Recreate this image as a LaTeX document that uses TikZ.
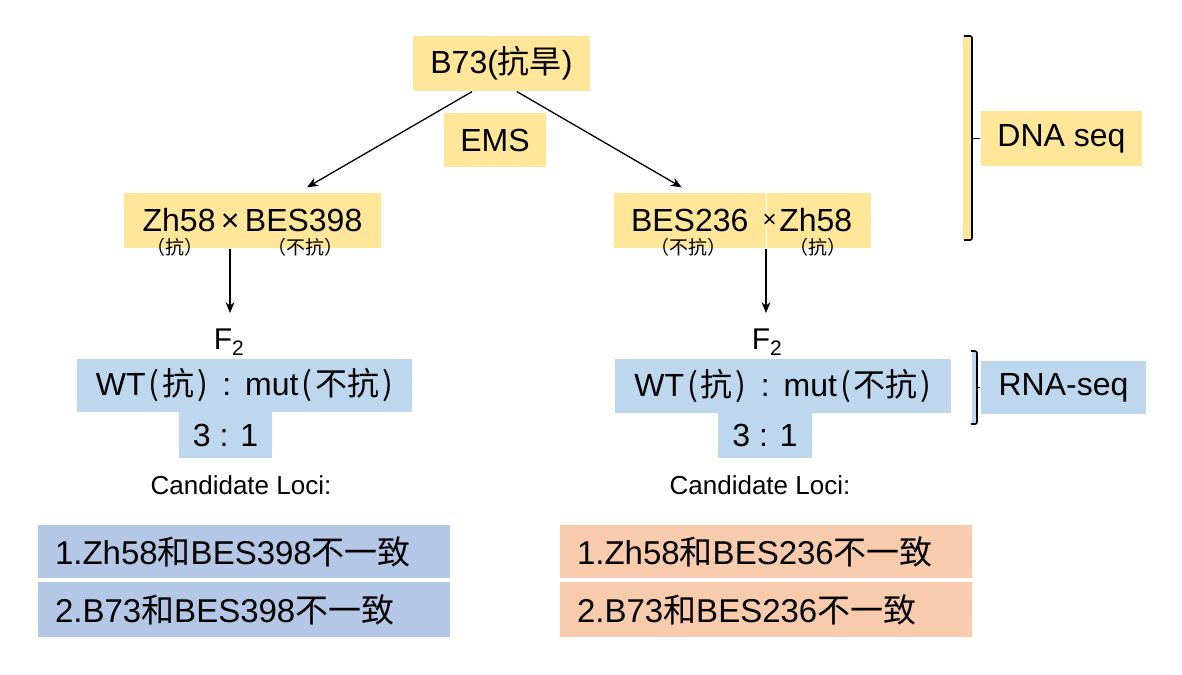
\documentclass[tikz,border=0pt]{standalone}
\usepackage{fontspec}
\setmainfont{Liberation Sans}
\newfontfamily\cjk{Noto Sans CJK SC}
\usetikzlibrary{arrows.meta}
\newcommand\zh[1]{{\cjk #1}}
\newcommand\fsz[1]{\fontsize{#1}{#1}\selectfont}
\definecolor{gold}{HTML}{FFE699}
\definecolor{sky}{HTML}{BDD7EE}
\definecolor{lociblue}{HTML}{B4C7E7}
\definecolor{lociorange}{HTML}{F8CBAD}
\begin{document}
\begin{tikzpicture}[x=1pt, y=-1pt, >={Stealth[length=11pt,width=9pt]}, line width=1.3pt,
    box/.style={inner sep=0pt, font=\fsz{32}},
    goldbox/.style={box, fill=gold},
    skybox/.style={box, fill=sky},
    locibox/.style={box, font=\fsz{33}, text width=378pt, align=left, inner xsep=17pt, minimum height=53pt},
    tag/.style={inner sep=0pt, font=\fsz{19}\cjk}]
  \useasboundingbox (0,0) rectangle (1182,674);

  % ================= 上部：B73 与杂交 =================
  \node[goldbox, minimum width=177pt, minimum height=55pt] (b73) at (501.5,63.5) {B73(\zh{抗旱})};
  \node[goldbox, minimum width=102pt, minimum height=54pt] (ems) at (495,140) {EMS};

  % 左：Zh58 x BES398
  \node[goldbox, minimum width=257pt, minimum height=55pt] (crossL) at (252.5,220.5) {Zh58\,×\,BES398};
  \node[tag] (tagL1) at (175,247) {（抗）};
  \node[tag] (tagL2) at (305,247) {（不抗）};

  % 右：BES236 x Zh58（两块拼接）
  \node[goldbox, minimum width=151.5pt, minimum height=55pt] (crossRa) at (689.75,220.5) {BES236};
  \node[goldbox, minimum width=104.5pt, minimum height=55pt] (crossRb) at (818.75,220.5) {\kern-6pt Zh58};
  \node[box, font=\fsz{24}] (times) at (769.5,221) {×};
  \node[tag] (tagR1) at (688,247) {（不抗）};
  \node[tag] (tagR2) at (818,247) {（抗）};

  \draw[->] ([xshift=-29.5pt]b73.south) -- ([xshift=54.5pt, yshift=5pt]crossL.north);
  \draw[->] ([xshift=15.5pt]b73.south) -- ([xshift=-8pt, yshift=5pt]crossRa.north);

  % ================= 中部：F2 分离比 =================
  \coordinate (fLin) at (230,313);
  \coordinate (fRin) at (766,313);
  \draw[->] (crossL.south -| fLin) -- (fLin);
  \draw[->] (crossRa.south -| fRin) -- (fRin);

  \node[box, font=\fsz{30}] (fL) at (229,342) {F\textsubscript{2}};
  \node[box, font=\fsz{30}] (fR) at (767,342) {F\textsubscript{2}};

  \node[skybox, minimum width=335pt, minimum height=53pt] (wtL) at (244.5,385.5) {WT\kern3pt\zh{(\kern3pt抗\kern3pt)}\hspace{14pt}:\hspace{14pt}mut\kern3pt\zh{(\kern3pt不抗\kern3pt)}};
  \node[skybox, minimum width=93pt, minimum height=46pt] (ratioL) at (225.5,435) {3 : 1};
  \node[skybox, minimum width=336pt, minimum height=54pt] (wtR) at (783,386) {WT\kern3pt\zh{(\kern3pt抗\kern3pt)}\hspace{14pt}:\hspace{14pt}mut\kern3pt\zh{(\kern3pt不抗\kern3pt)}};
  \node[skybox, minimum width=94pt, minimum height=46pt] (ratioR) at (765,435) {3 : 1};

  % ================= 下部：候选位点 =================
  \node[box, font=\fsz{26}] (lociL) at (241,485) {Candidate Loci:};
  \node[box, font=\fsz{26}] (lociR) at (760,485) {Candidate Loci:};

  \node[locibox, fill=lociblue] (candL1) at (244,551.5) {1.Zh58\zh{和}BES398\zh{不一致}};
  \node[locibox, fill=lociblue, minimum height=55pt] (candL2) at (244,609.5) {2.B73\zh{和}BES398\zh{不一致}};
  \node[locibox, fill=lociorange] (candR1) at (766,551.5) {1.Zh58\zh{和}BES236\zh{不一致}};
  \node[locibox, fill=lociorange, minimum height=55pt] (candR2) at (766,609.5) {2.B73\zh{和}BES236\zh{不一致}};

  % ================= 右侧：测序括号 =================
  \node[goldbox, minimum width=161pt, minimum height=55pt] (dna) at (1061.5,138.5) {DNA seq};
  \node[skybox, minimum width=165pt, minimum height=53pt] (rna) at (1063.5,387.5) {RNA-seq};

  \fill[gold] (963,36) rectangle (972,240);
  \draw[line width=1.6pt, rounded corners=2pt] (964,36) -- (972,36) -- (972,240) -- (964,240);
  \draw[line width=1.6pt] (972,138.5) -- (dna.west);

  \fill[sky] (972,351) rectangle (977,424);
  \draw[line width=1.6pt, rounded corners=2pt] (971,351) -- (977,351) -- (977,424) -- (971,424);
  \draw[line width=1.6pt] (977,387.5) -- (rna.west);
\end{tikzpicture}
\end{document}
